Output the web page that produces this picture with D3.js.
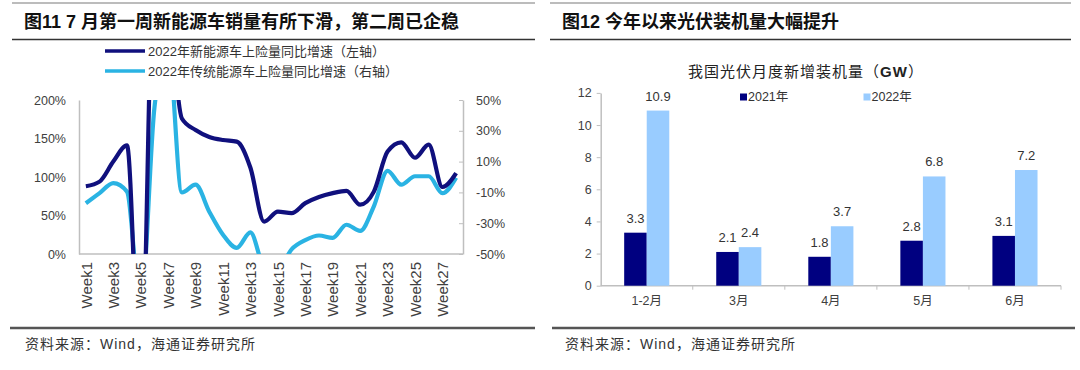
<!DOCTYPE html>
<html lang="zh">
<head>
    <meta charset="UTF-8">
    <title>新能源车与光伏</title>
    <script src="https://cdn.jsdelivr.net/npm/d3@7"></script>
    <style>
        body { margin: 0; background: #fff; }
        text { font-family: "Liberation Sans", "Noto Sans CJK SC", sans-serif; }
    </style>
</head>
<body>
    <div id="app"></div>
    <script>
        // 左图：周度上险量同比
        var weeks = d3.range(1, 29).map(function (d) { return "Week" + d; });
        var weekTicks = weeks.filter(function (d, i) { return i % 2 === 0; });
        var nevGrowth = [88, 94, 120, 141, -181, 400, 330, 176, 161, 152, 148, 146, 112, 42,
            55, 53, 66, 74, 79, 82, 64, 81, 133, 145, 125, 142, 87, 105];
        var iceGrowth = [-17, -10.5, -4, -9.5, -85, 45, 85, -10, -5, -22.5, -37.5, -46, -36, -58,
            -60, -47, -41, -38, -39.5, -31, -35, -19, 4, -5, 0.5, 0.5, -10.5, -0.5];
        var leftTicks = [0, 50, 100, 150, 200];
        var rightTicks = [-50, -30, -10, 10, 30, 50];

        // 右图：光伏月度新增装机
        var months = ["1-2月", "3月", "4月", "5月", "6月"];
        var years = ["2021年", "2022年"];
        var pv2021 = [3.3, 2.1, 1.8, 2.8, 3.1];
        var pv2022 = [10.9, 2.4, 3.7, 6.8, 7.2];
        var pvTicks = [0, 2, 4, 6, 8, 10, 12];

        var width = 1080;
        var height = 370;

        var svg = d3.select("#app")
            .append("svg")
            .attr("width", width)
            .attr("height", height);

        function header(x0, x1, title, tx) {
            svg.append("line").attr("x1", x0).attr("x2", x1).attr("y1", 3).attr("y2", 3)
                .attr("stroke", "#a6a6a6").attr("stroke-width", 1.5);
            svg.append("text").attr("x", tx).attr("y", 22).attr("dy", "0.35em")
                .style("font-size", "18px").style("font-weight", "bold").attr("fill", "#111")
                .text(title);
            svg.append("line").attr("x1", x0).attr("x2", x1).attr("y1", 39.5).attr("y2", 39.5)
                .attr("stroke", "#333").attr("stroke-width", 1.5);
        }

        function footer(x0, x1, tx) {
            svg.append("line").attr("x1", x0).attr("x2", x1).attr("y1", 328).attr("y2", 328)
                .attr("stroke", "#555").attr("stroke-width", 2.5);
            svg.append("text").attr("x", tx).attr("y", 344).attr("dy", "0.35em")
                .style("font-size", "14px").style("letter-spacing", "1px").attr("fill", "#333")
                .text("资料来源：Wind，海通证券研究所");
        }

        header(12, 535, "图11 7 月第一周新能源车销量有所下滑，第二周已企稳", 24);
        header(550, 1071, "图12 今年以来光伏装机量大幅提升", 562);
        footer(10, 535, 25);
        footer(552, 1075, 565);

        // ---------- 左图 ----------
        var plot = { left: 79, right: 463, top: 100, bottom: 254 };
        var x = d3.scalePoint().domain(weeks).range([plot.left, plot.right]).padding(0.5);
        var yL = d3.scaleLinear().domain([0, 200]).range([plot.bottom, plot.top]);
        var yR = d3.scaleLinear().domain([-50, 50]).range([plot.bottom, plot.top]);

        var axisColor = "#bfbfbf";
        var labelColor = "#404040";

        var gl = svg.append("g").attr("transform", "translate(" + plot.left + ",0)")
            .call(d3.axisLeft(yL).tickValues(leftTicks).tickSize(0).tickPadding(13)
                .tickFormat(function (d) { return d + "%"; }));
        var gr = svg.append("g").attr("transform", "translate(" + plot.right + ",0)")
            .call(d3.axisRight(yR).tickValues(rightTicks).tickSizeInner(-4).tickSizeOuter(0).tickPadding(13)
                .tickFormat(function (d) { return d + "%"; }));
        var gx = svg.append("g").attr("transform", "translate(0," + plot.bottom + ")")
            .call(d3.axisBottom(x).tickValues(weekTicks).tickSize(0));
        gx.select(".domain").attr("d", "M" + plot.left + ",0H" + plot.right);

        [gl, gr, gx].forEach(function (g) {
            g.select(".domain").attr("stroke", axisColor).attr("stroke-width", 1.5);
            g.selectAll(".tick line").attr("stroke", axisColor);
            g.selectAll("text").attr("fill", labelColor)
                .style("font-size", "12.5px").style("font-family", "\"Liberation Sans\", sans-serif");
        });
        gx.selectAll("text")
            .attr("transform", "rotate(-90)")
            .attr("text-anchor", "end")
            .attr("x", -8).attr("y", 0).attr("dy", "0.35em")
            .style("font-size", "15px");

        svg.append("clipPath").attr("id", "plotClip")
            .append("rect")
            .attr("x", plot.left).attr("y", plot.top)
            .attr("width", plot.right - plot.left).attr("height", plot.bottom - plot.top);

        var lineL = d3.line().x(function (d, i) { return x(weeks[i]); })
            .y(function (d) { return yL(d); }).curve(d3.curveMonotoneX);
        var lineR = d3.line().x(function (d, i) { return x(weeks[i]); })
            .y(function (d) { return yR(d); }).curve(d3.curveMonotoneX);

        var lines = svg.append("g").attr("clip-path", "url(#plotClip)");
        lines.append("path").attr("d", lineR(iceGrowth))
            .attr("fill", "none").attr("stroke", "#2ab3e3").attr("stroke-width", 4.2)
            .attr("stroke-linejoin", "round");
        lines.append("path").attr("d", lineL(nevGrowth))
            .attr("fill", "none").attr("stroke", "#10107d").attr("stroke-width", 4.2)
            .attr("stroke-linejoin", "round");

        var legendL = [
            { name: "2022年新能源车上险量同比增速（左轴）", color: "#10107d" },
            { name: "2022年传统能源车上险量同比增速（右轴）", color: "#2ab3e3" }
        ];
        var lg = svg.selectAll(".legL").data(legendL).enter().append("g")
            .attr("transform", function (d, i) { return "translate(105," + (51 + i * 20) + ")"; });
        lg.append("line").attr("x1", 0).attr("x2", 40)
            .attr("stroke", function (d) { return d.color; }).attr("stroke-width", 3.5);
        lg.append("text").attr("x", 43).attr("dy", "0.35em")
            .style("font-size", "13px").attr("fill", "#333")
            .text(function (d) { return d.name; });

        // ---------- 右图 ----------
        var bplot = { left: 600.7, right: 1061, top: 92.9, bottom: 285.7 };
        var x0 = d3.scaleBand().domain(months).range([bplot.left, bplot.right])
            .paddingInner(0.51).paddingOuter(0.255);
        var x1 = d3.scaleBand().domain(years).range([0, x0.bandwidth()]);
        var y = d3.scaleLinear().domain([0, 12]).range([bplot.bottom, bplot.top]);
        var barColor = d3.scaleOrdinal().domain(years).range(["#000080", "#99ccff"]);

        svg.append("text").attr("x", 806).attr("y", 72).attr("dy", "0.35em")
            .attr("text-anchor", "middle").style("font-size", "15px").style("letter-spacing", "1px")
            .attr("fill", "#222")
            .html("我国光伏月度新增装机量（<tspan font-weight='bold'>GW</tspan>）");

        var gy = svg.append("g").attr("transform", "translate(" + bplot.left + ",0)")
            .call(d3.axisLeft(y).tickValues(pvTicks).tickSizeInner(4).tickSizeOuter(0).tickPadding(5));
        var gbx = svg.append("g").attr("transform", "translate(0," + bplot.bottom + ")")
            .call(d3.axisBottom(x0).tickSize(0).tickPadding(10));
        gbx.select(".domain").attr("d", "M" + bplot.left + ",0H" + bplot.right);
        // 分类边界刻度
        gbx.selectAll(".sep").data(months).enter().append("line")
            .attr("x1", function (d) { return x0(d) - x0.step() * 0.255 + x0.step(); })
            .attr("x2", function (d) { return x0(d) - x0.step() * 0.255 + x0.step(); })
            .attr("y1", 0).attr("y2", 4).attr("stroke", axisColor);

        [gy, gbx].forEach(function (g) {
            g.select(".domain").attr("stroke", axisColor).attr("stroke-width", 1.5);
            g.selectAll(".tick line").attr("stroke", axisColor);
            g.selectAll("text").attr("fill", labelColor).style("font-size", "12.5px");
        });

        var rows = months.map(function (m, i) {
            return { month: m, values: [{ year: years[0], v: pv2021[i] }, { year: years[1], v: pv2022[i] }] };
        });

        var groups = svg.selectAll(".grp").data(rows).enter().append("g")
            .attr("transform", function (d) { return "translate(" + x0(d.month) + ",0)"; });
        groups.selectAll("rect").data(function (d) { return d.values; }).enter().append("rect")
            .attr("x", function (d) { return x1(d.year); })
            .attr("y", function (d) { return y(d.v); })
            .attr("width", x1.bandwidth())
            .attr("height", function (d) { return y(0) - y(d.v); })
            .attr("fill", function (d) { return barColor(d.year); });
        groups.selectAll(".val").data(function (d) { return d.values; }).enter().append("text")
            .attr("x", function (d) { return x1(d.year) + x1.bandwidth() / 2; })
            .attr("y", function (d) { return y(d.v) - 10; })
            .attr("text-anchor", "middle")
            .style("font-size", "13px").attr("fill", "#333")
            .text(function (d) { return d.v.toFixed(1); });

        var legR = svg.selectAll(".legR").data(years).enter().append("g")
            .attr("transform", function (d, i) { return "translate(" + (740 + i * 123.5) + ",97)"; });
        legR.append("rect").attr("x", 0).attr("y", -3.5).attr("width", 7).attr("height", 7)
            .attr("fill", function (d) { return barColor(d); });
        legR.append("text").attr("x", 8).attr("dy", "0.35em")
            .style("font-size", "12.5px").attr("fill", "#333")
            .text(function (d) { return d; });
    </script>
</body>
</html>
